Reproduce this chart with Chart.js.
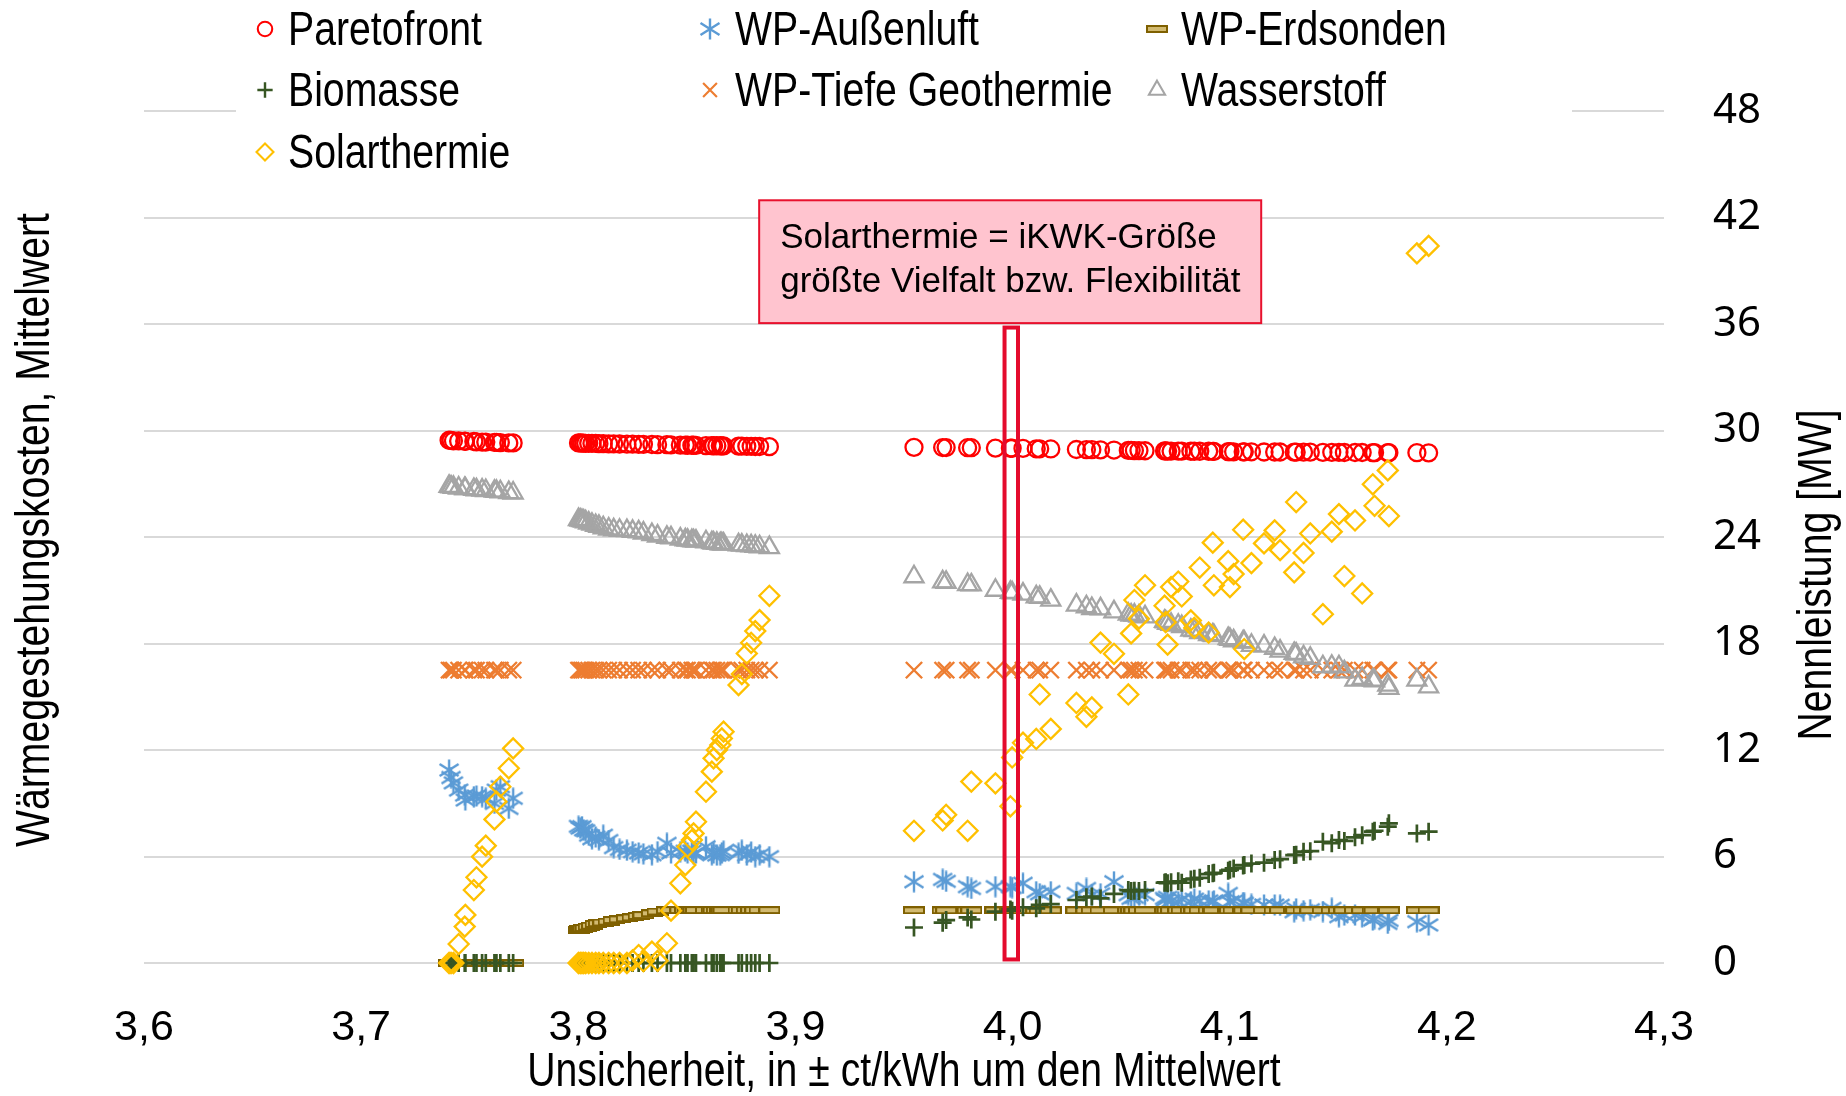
<!DOCTYPE html>
<html>
<head>
<meta charset="utf-8">
<script src="https://cdn.jsdelivr.net/npm/chart.js@4.4.0/dist/chart.umd.min.js"></script>
<style>
  html, body { margin: 0; padding: 0; background: #fff; }
</style>
</head>
<body>
<canvas id="chart" width="1846" height="1096"></canvas>
<script>
// Unsicherheit in ct/kWh (x) – one entry per solution
const unsicherheit = [
  3.7405, 3.7414, 3.7425, 3.7449, 3.7477, 3.7480, 3.7519, 3.7531, 3.7557, 3.7574, 3.7614, 3.7623, 3.7641, 3.7680, 3.7700,
  3.8001, 3.8009, 3.8017, 3.8025, 3.8034, 3.8048, 3.8063, 3.8080, 3.8095, 3.8115,
  3.8140, 3.8163, 3.8190, 3.8224, 3.8250, 3.8278, 3.8300, 3.8339, 3.8365, 3.8408,
  3.8427, 3.8470, 3.8493, 3.8503, 3.8523, 3.8531, 3.8542, 3.8588, 3.8615, 3.8623,
  3.8638, 3.8654, 3.8661, 3.8669, 3.8738, 3.8753, 3.8776, 3.8796, 3.8815, 3.8835,
  3.8880,
  3.9546, 3.9678, 3.9694, 3.9793, 3.9810, 3.9921, 3.9990, 3.9998, 4.0048, 4.0109,
  4.0125, 4.0176, 4.0294, 4.0340, 4.0365, 4.0405, 4.0467, 4.0533, 4.0546, 4.0561,
  4.0582, 4.0610, 4.0700, 4.0705, 4.0714, 4.0730, 4.0763, 4.0779, 4.0821, 4.0837,
  4.0862, 4.0903, 4.0922, 4.0927, 4.0993, 4.1001, 4.1018, 4.1062, 4.1067, 4.1100,
  4.1158, 4.1207, 4.1232, 4.1297, 4.1306, 4.1340, 4.1371, 4.1429, 4.1470, 4.1503,
  4.1528, 4.1577, 4.1610, 4.1659, 4.1667, 4.1728, 4.1733, 4.1862, 4.1916
];

const paretofront = [
  29.45, 29.44, 29.42, 29.41, 29.40, 29.39, 29.38, 29.36, 29.35, 29.35, 29.33, 29.33, 29.32, 29.30, 29.30,
  29.30, 29.30, 29.29, 29.29, 29.28, 29.28, 29.27, 29.27, 29.26, 29.26,
  29.25, 29.25, 29.24, 29.23, 29.23, 29.22, 29.22, 29.21, 29.20, 29.20,
  29.19, 29.18, 29.18, 29.17, 29.17, 29.17, 29.16, 29.15, 29.15, 29.14,
  29.14, 29.14, 29.13, 29.13, 29.12, 29.12, 29.11, 29.11, 29.10, 29.10,
  29.09,
  29.05, 29.04, 29.04, 29.03, 29.03, 29.01, 29.00, 29.00, 28.99, 28.97,
  28.97, 28.96, 28.93, 28.92, 28.92, 28.91, 28.90, 28.88, 28.88, 28.87,
  28.87, 28.86, 28.85, 28.85, 28.84, 28.84, 28.84, 28.84, 28.83, 28.83,
  28.83, 28.83, 28.82, 28.82, 28.81, 28.81, 28.80, 28.80, 28.80, 28.80,
  28.79, 28.79, 28.79, 28.78, 28.78, 28.78, 28.78, 28.77, 28.77, 28.77,
  28.76, 28.76, 28.76, 28.75, 28.75, 28.75, 28.75, 28.75, 28.74
];

const wpAussenluft = [
  10.87, 10.45, 10.15, 9.74, 9.46, 9.18, 9.37, 9.41, 9.37, 9.28, 8.99, 9.74, 9.93, 8.71, 9.28,
  7.70, 7.60, 7.68, 7.50, 7.45, 7.20, 7.00, 7.10, 6.95, 7.20,
  6.90, 6.50, 6.40, 6.35, 6.27, 6.20, 6.15, 6.10, 6.27, 6.74,
  6.20, 6.27, 6.30, 6.20, 6.30, 6.15, 6.20, 6.55, 6.10, 6.20,
  6.08, 6.10, 6.20, 6.30, 6.18, 6.35, 6.08, 6.25, 5.99, 6.10,
  5.99,
  4.58, 4.71, 4.60, 4.30, 4.20, 4.30, 4.30, 4.25, 4.49, 4.02,
  3.90, 4.02, 3.92, 4.20, 3.85, 3.90, 4.58, 3.85, 3.64, 3.70,
  3.85, 3.85, 3.64, 3.55, 3.70, 3.50, 3.45, 3.60, 3.45, 3.60,
  3.50, 3.50, 3.45, 3.50, 3.92, 3.45, 3.50, 3.40, 3.36, 3.30,
  3.27, 3.27, 3.25, 2.89, 3.05, 2.95, 3.00, 2.90, 3.08, 2.61,
  2.70, 2.70, 2.60, 2.42, 2.50, 2.23, 2.40, 2.33, 2.14
];

const wpErdsonden = [
  0, 0, 0, 0, 0, 0, 0, 0, 0, 0, 0, 0, 0, 0, 0,
  1.86, 1.90, 1.93, 1.95, 1.97, 2.05, 2.10, 2.20, 2.24, 2.28,
  2.33, 2.42, 2.46, 2.52, 2.57, 2.65, 2.70, 2.80, 2.90, 2.97,
  2.98, 2.98, 2.98, 2.98, 2.98, 2.98, 2.98, 2.98, 2.98, 2.98,
  2.98, 2.98, 2.98, 2.98, 2.98, 2.98, 2.98, 2.98, 2.98, 2.98,
  2.98,
  2.97, 2.97, 2.97, 2.97, 2.97, 2.97, 2.97, 2.97, 2.97, 2.97,
  2.97, 2.97, 2.97, 2.97, 2.97, 2.97, 2.97, 2.97, 2.97, 2.97,
  2.97, 2.97, 2.97, 2.97, 2.97, 2.97, 2.97, 2.97, 2.97, 2.97,
  2.97, 2.97, 2.97, 2.97, 2.97, 2.97, 2.97, 2.97, 2.97, 2.97,
  2.97, 2.97, 2.97, 2.97, 2.97, 2.97, 2.97, 2.97, 2.97, 2.97,
  2.97, 2.97, 2.97, 2.97, 2.97, 2.97, 2.97, 2.97, 2.97
];

const biomasse = [
  0, 0, 0, 0, 0, 0, 0, 0, 0, 0, 0, 0, 0, 0, 0,
  0, 0, 0, 0, 0, 0, 0, 0, 0, 0,
  0, 0, 0, 0, 0, 0, 0, 0, 0, 0,
  0, 0, 0, 0, 0, 0, 0, 0, 0, 0,
  0, 0, 0, 0, 0, 0, 0, 0, 0, 0,
  0,
  2.00, 2.27, 2.42, 2.57, 2.45, 2.89, 3.02, 2.95, 3.14, 3.08,
  3.27, 3.32, 3.55, 3.70, 3.74, 3.64, 3.89, 4.11, 4.05, 4.07,
  4.05, 4.11, 4.52, 4.55, 4.50, 4.55, 4.60, 4.52, 4.71, 4.75,
  4.80, 5.01, 5.05, 5.08, 5.20, 5.25, 5.33, 5.50, 5.52, 5.60,
  5.65, 5.80, 5.85, 6.08, 6.10, 6.27, 6.30, 6.83, 6.75, 6.93,
  6.88, 7.08, 7.20, 7.40, 7.45, 7.68, 7.87, 7.30, 7.40
];

const wpTiefeGeothermie = [
  16.5, 16.5, 16.5, 16.5, 16.5, 16.5, 16.5, 16.5, 16.5, 16.5, 16.5, 16.5, 16.5, 16.5, 16.5,
  16.5, 16.5, 16.5, 16.5, 16.5, 16.5, 16.5, 16.5, 16.5, 16.5,
  16.5, 16.5, 16.5, 16.5, 16.5, 16.5, 16.5, 16.5, 16.5, 16.5,
  16.5, 16.5, 16.5, 16.5, 16.5, 16.5, 16.5, 16.5, 16.5, 16.5,
  16.5, 16.5, 16.5, 16.5, 16.5, 16.5, 16.5, 16.5, 16.5, 16.5,
  16.5,
  16.5, 16.5, 16.5, 16.5, 16.5, 16.5, 16.5, 16.5, 16.5, 16.5,
  16.5, 16.5, 16.5, 16.5, 16.5, 16.5, 16.5, 16.5, 16.5, 16.5,
  16.5, 16.5, 16.5, 16.5, 16.5, 16.5, 16.5, 16.5, 16.5, 16.5,
  16.5, 16.5, 16.5, 16.5, 16.5, 16.5, 16.5, 16.5, 16.5, 16.5,
  16.5, 16.5, 16.5, 16.5, 16.5, 16.5, 16.5, 16.5, 16.5, 16.5,
  16.5, 16.5, 16.5, 16.5, 16.5, 16.5, 16.5, 16.5, 16.5
];

const wasserstoff = [
  26.85, 26.82, 26.80, 26.76, 26.73, 26.72, 26.68, 26.66, 26.64, 26.62, 26.58, 26.57, 26.55, 26.50, 26.48,
  24.98, 24.95, 24.92, 24.90, 24.85, 24.78, 24.72, 24.65, 24.60, 24.52,
  24.45, 24.40, 24.38, 24.36, 24.32, 24.29, 24.22, 24.14, 24.05, 23.98,
  23.95, 23.88, 23.84, 23.82, 23.80, 23.78, 23.77, 23.73, 23.68, 23.66,
  23.64, 23.62, 23.61, 23.60, 23.56, 23.54, 23.52, 23.50, 23.48, 23.45,
  23.40,
  21.76, 21.47, 21.45, 21.32, 21.30, 21.00, 20.88, 20.85, 20.78, 20.63,
  20.60, 20.44, 20.16, 20.07, 19.97, 19.95, 19.78, 19.65, 19.60, 19.60,
  19.55, 19.50, 19.25, 19.22, 19.13, 19.08, 19.03, 18.95, 18.75, 18.72,
  18.62, 18.50, 18.47, 18.45, 18.28, 18.23, 18.15, 18.10, 18.08, 17.90,
  17.85, 17.72, 17.57, 17.44, 17.40, 17.25, 17.16, 16.69, 16.72, 16.69,
  16.40, 15.94, 16.03, 15.94, 15.90, 15.65, 15.47, 15.94, 15.56
];

const solarthermie = [
  0, 0, 0, 1.07, 2.05, 2.71, 4.11, 4.83, 5.99, 6.61, 8.09, 9.09, 9.93, 10.97, 12.09,
  0, 0, 0, 0, 0, 0, 0, 0, 0, 0,
  0, 0, 0, 0, 0.15, 0.45, 0.10, 0.64, 0.12, 1.11,
  2.95, 4.49, 5.52, 6.55, 6.93, 7.30, 7.96, 9.65, 10.78, 11.53,
  12.00, 12.28, 12.65, 13.03, 15.66, 16.28, 17.44, 18.04, 18.70, 19.32,
  20.69,
  7.45, 8.03, 8.35, 7.45, 10.22, 10.12, 8.83, 11.58, 12.41, 12.62,
  15.13, 13.19, 14.65, 13.87, 14.40, 18.05, 17.42, 15.13, 18.57, 20.45,
  19.40, 21.28, 20.13, 19.20, 17.94, 21.18, 21.49, 20.65, 19.30, 18.88,
  22.28, 18.61, 23.68, 21.28, 22.64, 21.18, 21.91, 24.41, 17.69, 22.53,
  23.64, 24.37, 23.26, 22.01, 25.97, 23.10, 24.20, 19.65, 24.30, 25.29,
  21.80, 24.93, 20.82, 26.97, 25.76, 27.75, 25.18, 39.98, 40.40
];

const xRange = [3.6, 4.3, 0.1];
const yRange = [0, 48, 6];

// annotation: highlighted solution and text box (data coordinates)
const markX = [3.9963, 4.0025];
const markY = [0.2, 35.8];
const noteX = [3.8833, 4.1145];
const noteY = [36.05, 42.97];
const noteLines = ['Solarthermie = iKWK-Größe', 'größte Vielfalt bzw. Flexibilität'];

const xTitle = 'Unsicherheit, in ± ct/kWh um den Mittelwert';
const yLeftTitle = 'Wärmegestehungskosten, Mittelwert';
const yRightTitle = 'Nennleistung [MW]';

const ARIAL = '"Liberation Sans", Arial, sans-serif';
const NARROW_FONT = '49px ' + ARIAL;
const NARROW_SCALE = 0.8;

function makeAsterisk(color) {
  const c = document.createElement('canvas');
  c.width = 22; c.height = 22;
  const g = c.getContext('2d');
  g.strokeStyle = color;
  g.lineWidth = 2.4;
  g.beginPath();
  g.moveTo(11, 0.5); g.lineTo(11, 21.5);
  g.moveTo(1.5, 5); g.lineTo(20.5, 17);
  g.moveTo(1.5, 17); g.lineTo(20.5, 5);
  g.stroke();
  return c;
}

function makeDash() {
  const c = document.createElement('canvas');
  c.width = 22; c.height = 8;
  const g = c.getContext('2d');
  g.fillStyle = '#D2BA70';
  g.fillRect(1, 1, 20, 6);
  g.strokeStyle = '#7F6000';
  g.lineWidth = 2;
  g.strokeRect(1, 1, 20, 6);
  return c;
}

// condensed text, like the narrow font of the original
function narrowText(ctx, text, x, y, align, rotation) {
  ctx.save();
  ctx.translate(x, y);
  ctx.rotate(rotation || 0);
  ctx.scale(NARROW_SCALE, 1);
  ctx.font = NARROW_FONT;
  ctx.textAlign = align;
  ctx.textBaseline = 'middle';
  ctx.fillStyle = '#000';
  ctx.fillText(text, 0, 0);
  ctx.restore();
}

const pts = arr => unsicherheit.map((x, i) => ({ x: x, y: arr[i] }));

const series = [
  { label: 'Paretofront', data: paretofront, style: 'circle', r: 8.5, bw: 2.3, color: '#FF0000' },
  { label: 'WP-Außenluft', data: wpAussenluft, style: makeAsterisk('#5B9BD5'), r: 10, bw: 2, color: '#5B9BD5' },
  { label: 'WP-Erdsonden', data: wpErdsonden, style: makeDash(), r: 10, bw: 2, color: '#7F6000' },
  { label: 'Biomasse', data: biomasse, style: 'cross', r: 9, bw: 2.7, color: '#375623' },
  { label: 'WP-Tiefe Geothermie', data: wpTiefeGeothermie, style: 'crossRot', r: 11.5, bw: 2.4, color: '#ED7D31' },
  { label: 'Wasserstoff', data: wasserstoff, style: 'triangle', r: 11, bw: 2.3, color: '#A5A5A5' },
  { label: 'Solarthermie', data: solarthermie, style: 'rectRot', r: 10, bw: 2.3, color: '#FFC000' }
];

const datasets = series.map((s, i) => ({
  label: s.label,
  data: pts(s.data),
  yAxisID: 'y',
  pointStyle: s.style,
  pointRadius: s.r,
  pointHoverRadius: s.r,
  pointBorderWidth: s.bw,
  borderColor: s.color,
  backgroundColor: 'rgba(0,0,0,0)',
  showLine: false,
  clip: false,
  order: series.length - 1 - i
}));

const overlay = {
  id: 'overlay',
  afterDatasetsDraw(chart) {
    const { ctx } = chart;
    const x = chart.scales.x, y = chart.scales.y;
    ctx.save();
    // highlighted column around 4,0
    ctx.strokeStyle = '#E40A2D';
    ctx.lineWidth = 4;
    const mx0 = x.getPixelForValue(markX[0]), mx1 = x.getPixelForValue(markX[1]);
    const my0 = y.getPixelForValue(markY[1]), my1 = y.getPixelForValue(markY[0]);
    ctx.strokeRect(mx0, my0, mx1 - mx0, my1 - my0);

    // note box
    const bx0 = x.getPixelForValue(noteX[0]), bx1 = x.getPixelForValue(noteX[1]);
    const by0 = y.getPixelForValue(noteY[1]), by1 = y.getPixelForValue(noteY[0]);
    ctx.fillStyle = '#FFC4CF';
    ctx.fillRect(bx0, by0, bx1 - bx0, by1 - by0);
    ctx.strokeStyle = '#E8112D';
    ctx.lineWidth = 2;
    ctx.strokeRect(bx0, by0, bx1 - bx0, by1 - by0);
    ctx.fillStyle = '#000';
    ctx.font = '35px ' + ARIAL;
    ctx.textAlign = 'left';
    ctx.textBaseline = 'alphabetic';
    ctx.fillText(noteLines[0], bx0 + 21, by0 + 48);
    ctx.fillText(noteLines[1], bx0 + 21, by0 + 92);
    ctx.restore();
  },
  afterDraw(chart) {
    const { ctx } = chart;
    const area = chart.chartArea;
    ctx.save();
    // legend background over the top gridline
    ctx.fillStyle = '#fff';
    ctx.fillRect(236, 0, 1336, 190);

    const colX = [265, 710, 1157];
    const textX = [288, 735, 1181];
    const rowY = [29, 90, 152];
    chart.data.datasets.forEach((ds, i) => {
      const col = i % 3, row = Math.floor(i / 3);
      ctx.strokeStyle = ds.borderColor;
      ctx.fillStyle = 'rgba(0,0,0,0)';
      ctx.lineWidth = ds.pointBorderWidth * 0.9;
      Chart.helpers.drawPoint(ctx, {
        pointStyle: ds.pointStyle,
        radius: ds.pointRadius * 0.85,
        rotation: 0,
        borderWidth: ds.pointBorderWidth
      }, colX[col], rowY[row]);
      narrowText(ctx, ds.label, textX[col], rowY[row] + 2, 'left', 0);
    });
    ctx.restore();

    // axis titles
    narrowText(ctx, xTitle, (area.left + area.right) / 2, 1072, 'center', 0);
    narrowText(ctx, yLeftTitle, 35, 530, 'center', -Math.PI / 2);
    narrowText(ctx, yRightTitle, 1817, 575, 'center', -Math.PI / 2);
  }
};

new Chart(document.getElementById('chart'), {
  type: 'scatter',
  data: { datasets: datasets },
  options: {
    responsive: false,
    animation: false,
    layout: { padding: { top: 111, left: 0, right: 0, bottom: 0 } },
    plugins: {
      legend: { display: false },
      tooltip: { enabled: false }
    },
    scales: {
      x: {
        type: 'linear',
        position: 'bottom',
        min: xRange[0],
        max: xRange[1],
        afterFit: s => { s.height = 133; },
        grid: { display: false },
        border: { display: false },
        ticks: {
          stepSize: xRange[2],
          padding: 31,
          color: '#000',
          autoSkip: false,
          maxRotation: 0,
          font: { family: ARIAL, size: 43 },
          callback: v => v.toFixed(1).replace('.', ',')
        }
      },
      yL: {
        type: 'linear',
        position: 'left',
        min: yRange[0],
        max: yRange[1],
        afterFit: s => { s.width = 144; },
        grid: { display: false },
        border: { display: false },
        ticks: { display: false }
      },
      y: {
        type: 'linear',
        position: 'right',
        min: yRange[0],
        max: yRange[1],
        afterFit: s => { s.width = 182; },
        grid: { color: '#D9D9D9', lineWidth: 2, drawTicks: false },
        border: { display: false },
        ticks: {
          stepSize: yRange[2],
          padding: 49,
          color: '#000',
          font: { family: '"Noto Sans", sans-serif', size: 42 }
        }
      }
    }
  },
  plugins: [overlay]
});
</script>
</body>
</html>
